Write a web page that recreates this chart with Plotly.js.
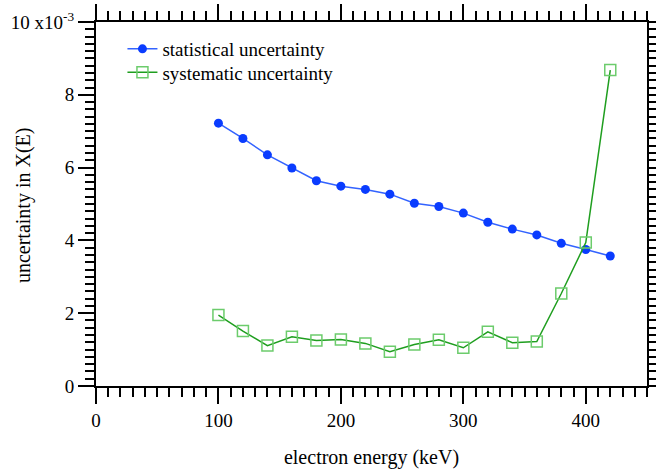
<!DOCTYPE html>
<html><head><meta charset="utf-8">
<script src="https://cdn.plot.ly/plotly-3.0.1.min.js"></script>
<style>html,body{margin:0;padding:0;background:#fff}#chart{width:656px;height:469px}</style>
</head><body><div id="chart"></div>
<script>
const energy = [100,120,140,160,180,200,220,240,260,280,300,320,340,360,380,400,420];
const statistical = [0.00722,0.00680,0.00635,0.00599,0.00564,0.00549,0.00540,0.00527,0.00502,0.00493,0.00475,0.00450,0.00431,0.00415,0.00392,0.00375,0.00357];
const systematic = [0.00195,0.00151,0.00111,0.00135,0.00125,0.00128,0.00117,0.00094,0.00114,0.00127,0.00105,0.00149,0.00119,0.00122,0.00254,0.00394,0.00868];
const yTickVals = [0,0.002,0.004,0.006,0.008,0.010];
const yTickText = ["0","2","4","6","8","10 x10<sup>-3</sup>"];
const xTickVals = [0,100,200,300,400];
const seriesNames = ["statistical uncertainty","systematic uncertainty"];

const FONT = '"Liberation Serif","Times New Roman",serif';
const traces = [
  {x: energy, y: statistical, name: seriesNames[0], type:'scatter', mode:'lines+markers', legend:'legend',
   line:{color:'#3363ff', width:1.5}, marker:{color:'#0a3cff', size:9, symbol:'circle'}},
  {x: energy, y: systematic, name: seriesNames[1], type:'scatter', mode:'lines+markers', legend:'legend2',
   line:{color:'#1f9e1f', width:1.5}, marker:{color:'#6ccc6c', size:11, symbol:'square-open', line:{color:'#6ccc6c', width:1.5}}}
];
const axisCommon = {showline:true, linewidth:2, linecolor:'#000', mirror:'ticks', ticks:'outside',
  ticklen:16, tickwidth:2, tickcolor:'#000', showgrid:false, zeroline:false,
  tickfont:{family:FONT, size:19, color:'#000'}};
const legendCommon = {xanchor:'left', yanchor:'middle', bgcolor:'rgba(0,0,0,0)', font:{family:FONT, size:19, color:'#000'}};
const layout = {
  width:656, height:469, paper_bgcolor:'#fff', plot_bgcolor:'#fff',
  margin:{l:96, r:9, t:22, b:83},
  font:{family:FONT, size:19, color:'#000'},
  showlegend:true,
  legend:Object.assign({}, legendCommon, {x:0.048, y:(386-49)/364}),
  legend2:Object.assign({}, legendCommon, {x:0.048, y:(386-72.5)/364}),
  xaxis:Object.assign({}, axisCommon, {range:[0,450], tickvals:xTickVals,
    minor:{dtick:10, ticklen:9, tickwidth:2, tickcolor:'#000', ticks:'outside'},
    title:{text:'electron energy (keV)', font:{family:FONT, size:20}, standoff:20}}),
  yaxis:Object.assign({}, axisCommon, {range:[0,0.010], tickvals:yTickVals, ticktext:yTickText,
    minor:{dtick:0.0002, ticklen:9, tickwidth:2, tickcolor:'#000', ticks:'outside'}}),
  annotations:[{text:'uncertainty in X(E)', xref:'paper', yref:'paper', x:-0.1325, y:0.497,
    xanchor:'center', yanchor:'middle', textangle:-90, showarrow:false, font:{family:FONT, size:20}}]
};
Plotly.newPlot('chart', traces, layout, {displayModeBar:false, staticPlot:true});
</script></body></html>
